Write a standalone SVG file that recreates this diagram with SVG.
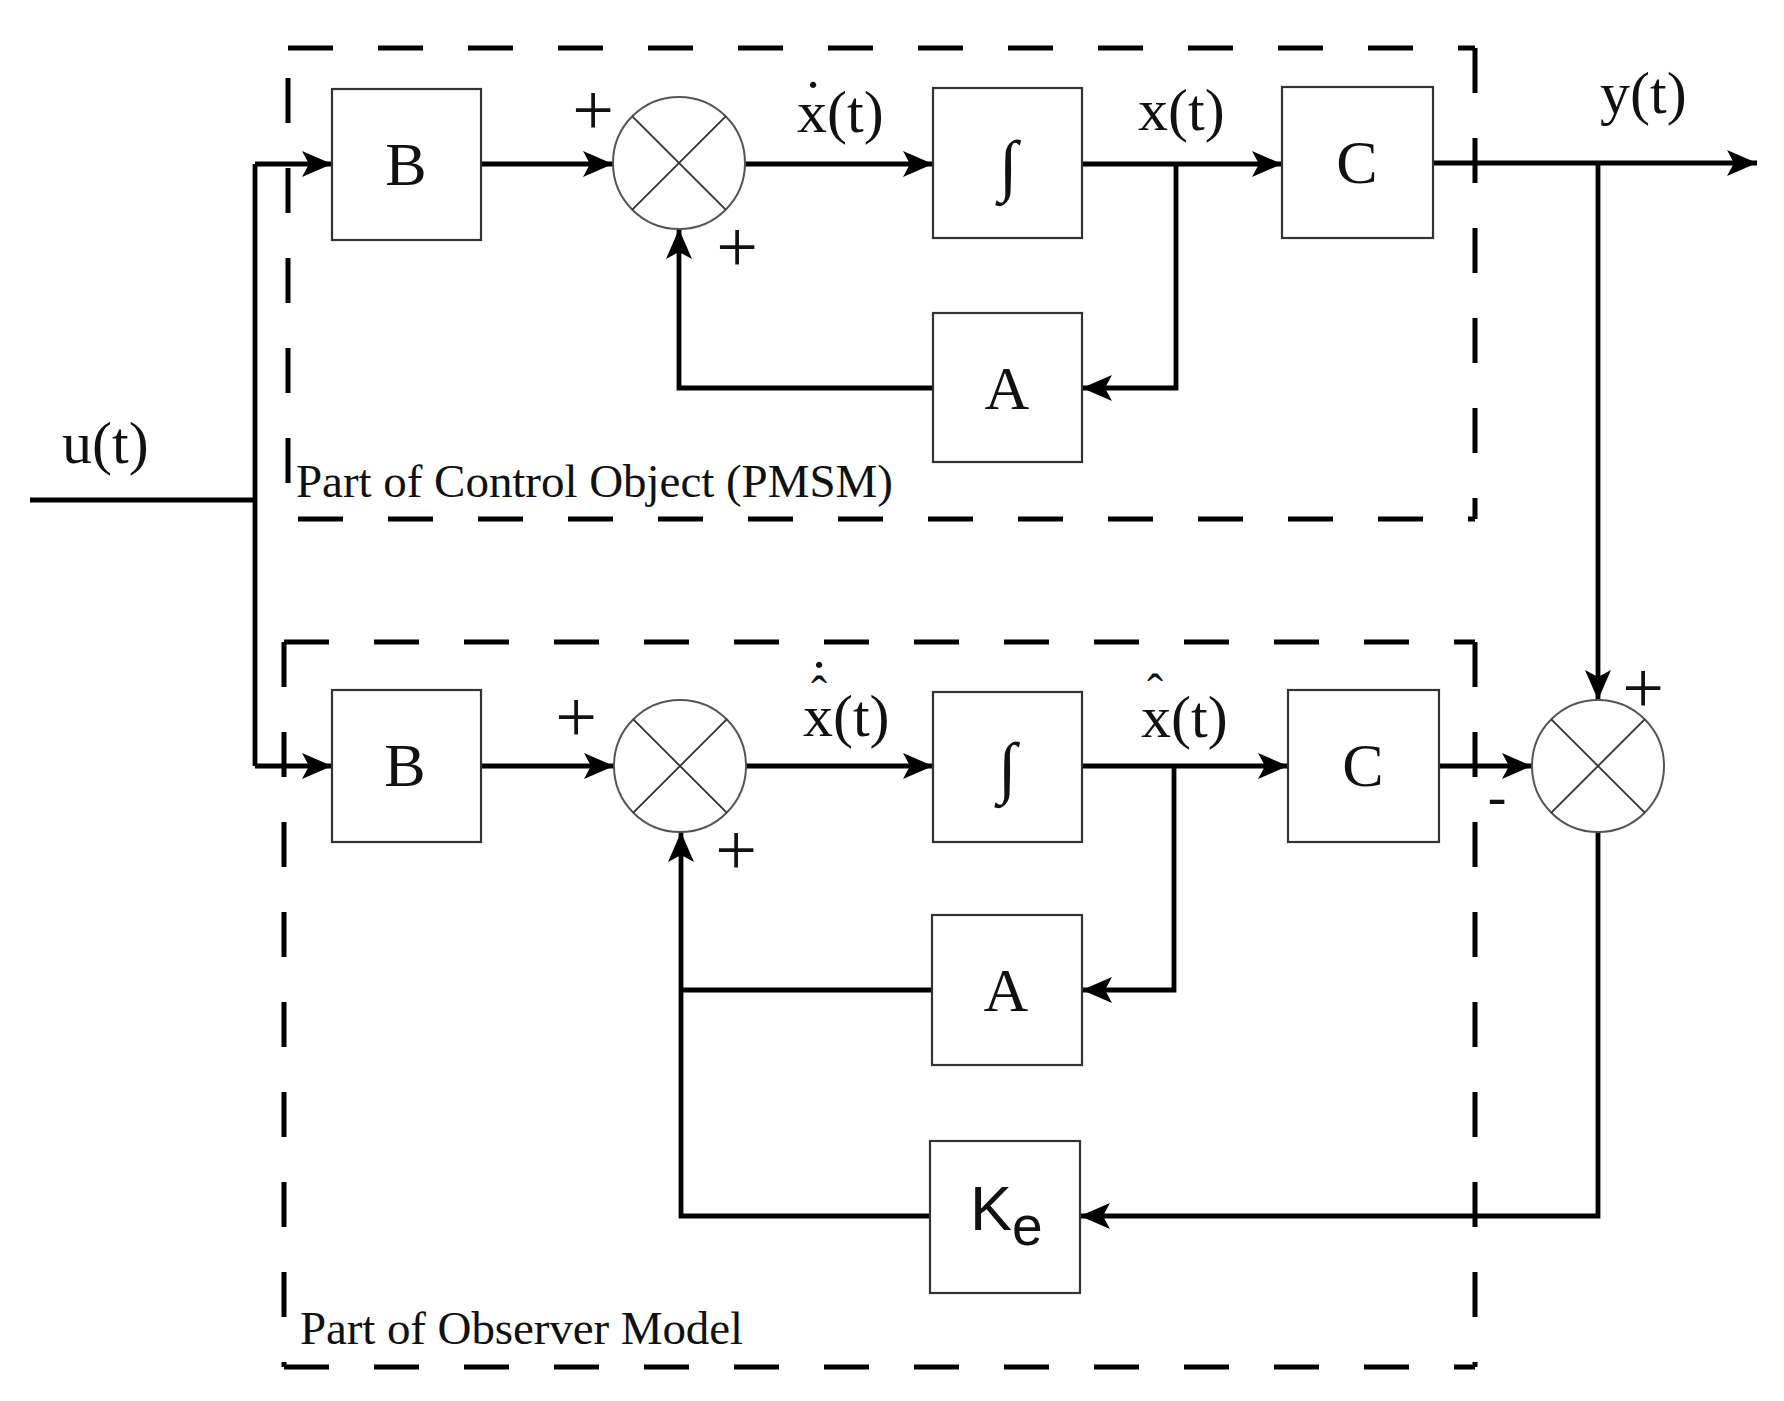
<svg xmlns="http://www.w3.org/2000/svg" width="1784" height="1401" viewBox="0 0 1784 1401">
<defs>
<marker id="arr" markerUnits="userSpaceOnUse" markerWidth="32" markerHeight="28" refX="30" refY="13" orient="auto">
<path d="M0,0 L30,13 L0,26 L7,13 Z" fill="#000"/>
</marker>
</defs>
<style>
.frame{fill:none;stroke:#000;stroke-width:5;stroke-dasharray:45 45}
.blk{fill:#fff;stroke:#333;stroke-width:2.2}
.sum{fill:#fff;stroke:#555;stroke-width:2}
.xl{stroke:#333;stroke-width:1.8}
.w{fill:none;stroke:#000;stroke-width:4.8}
.wa{fill:none;stroke:#000;stroke-width:4.8;marker-end:url(#arr)}
.t{font-family:"Liberation Serif","Times New Roman",serif;fill:#111}
.lab{font-size:60px}
.big{font-size:62px;text-anchor:middle}
.int{font-size:68px;text-anchor:middle;font-weight:bold}
.sg{font-size:74px;text-anchor:middle}
.cap{font-size:47px}
.s{font-family:"Liberation Sans",Arial,sans-serif;fill:#111}
</style>
<rect width="1784" height="1401" fill="#fff"/>

<g id="frame-plant">
<path class="frame" d="M288,48 H1475"/>
<path class="frame" d="M1475,48 V519"/>
<path class="frame" d="M298,519 H1475"/>
<path class="frame" d="M288,78 V500"/>
<text class="t cap" x="296" y="497" textLength="597">Part of Control Object (PMSM)</text>
</g>
<g id="frame-observer">
<path class="frame" d="M284,642 H1475"/>
<path class="frame" d="M1475,642 V1367"/>
<path class="frame" d="M284,1367 H1475"/>
<path class="frame" d="M284,642 V1367"/>
<text class="t cap" x="300" y="1344" textLength="443">Part of Observer Model</text>
</g>

<g id="connectors">
<path class="w" d="M30,500 H255"/>
<path class="w" d="M255,164 V766"/>
<path class="wa" d="M255,164 H332"/>
<path class="wa" d="M255,766 H332"/>
<path class="wa" d="M481,164 H613"/>
<path class="wa" d="M745,164 H933"/>
<path class="wa" d="M1082,164 H1282"/>
<path class="wa" d="M1176,164 V388 H1082"/>
<path class="wa" d="M933,388 H679 V229"/>
<path class="wa" d="M1433,163 H1757"/>
<path class="wa" d="M1598,163 V700"/>
<path class="wa" d="M481,766 H614"/>
<path class="wa" d="M746,766 H933"/>
<path class="wa" d="M1082,766 H1288"/>
<path class="wa" d="M1174,766 V990 H1082"/>
<path class="w" d="M932,990 H681"/>
<path class="wa" d="M1439,766 H1532"/>
<path class="wa" d="M1598,832 V1216 H1080"/>
<path class="wa" d="M930,1216 H681 V832"/>
</g>

<g id="B1"><rect class="blk" x="332" y="89" width="149" height="151"/><text class="t big" x="406" y="185">B</text></g>
<g id="S1"><circle class="sum" cx="679" cy="163" r="66"/><path class="xl" d="M632.3,116.3 L725.7,209.7 M725.7,116.3 L632.3,209.7"/>
<text class="t sg" x="593" y="135">+</text><text class="t sg" x="737" y="272">+</text></g>
<g id="I1"><rect class="blk" x="933" y="88" width="149" height="150"/><text class="t int" x="1008" y="188">∫</text></g>
<g id="C1"><rect class="blk" x="1282" y="87" width="151" height="151"/><text class="t big" x="1357" y="183">C</text></g>
<g id="A1"><rect class="blk" x="933" y="313" width="149" height="149"/><text class="t big" x="1007" y="409">A</text></g>

<g id="B2"><rect class="blk" x="332" y="690" width="149" height="152"/><text class="t big" x="405" y="786">B</text></g>
<g id="S2"><circle class="sum" cx="680" cy="766" r="66"/><path class="xl" d="M633.3,719.3 L726.7,812.7 M726.7,719.3 L633.3,812.7"/>
<text class="t sg" x="576" y="742">+</text><text class="t sg" x="736" y="875">+</text></g>
<g id="I2"><rect class="blk" x="933" y="692" width="149" height="150"/><text class="t int" x="1007" y="790">∫</text></g>
<g id="C2"><rect class="blk" x="1288" y="690" width="151" height="152"/><text class="t big" x="1363" y="786">C</text></g>
<g id="A2"><rect class="blk" x="932" y="915" width="150" height="150"/><text class="t big" x="1006" y="1011">A</text></g>
<g id="Ke"><rect class="blk" x="930" y="1141" width="150" height="152"/><text class="s" x="970" y="1230" font-size="63">K<tspan font-size="55" dy="15">e</tspan></text></g>

<g id="S3"><circle class="sum" cx="1598" cy="766" r="66"/><path class="xl" d="M1551.3,719.3 L1644.7,812.7 M1644.7,719.3 L1551.3,812.7"/>
<text class="t sg" x="1643" y="713">+</text><text class="t" x="1497" y="815" font-size="56" text-anchor="middle">-</text></g>

<g id="labels">
<text class="t lab" x="62" y="463">u(t)</text>
<text class="t lab" x="1600" y="113">y(t)</text>
<text class="t lab" x="797" y="132">x<tspan dx="-24" dy="-11">˙</tspan><tspan dx="4" dy="11">(t)</tspan></text>
<text class="t lab" x="1138" y="130">x(t)</text>
<text class="t lab" x="803" y="736">x<tspan font-size="48" dx="-22" dy="-26">ˆ</tspan><tspan dx="-18" dy="-9">˙</tspan><tspan dx="4" dy="35">(t)</tspan></text>
<text class="t lab" x="1141" y="737">x<tspan font-size="48" dx="-24" dy="-29">ˆ</tspan><tspan dx="8" dy="29">(t)</tspan></text>
</g>
</svg>
